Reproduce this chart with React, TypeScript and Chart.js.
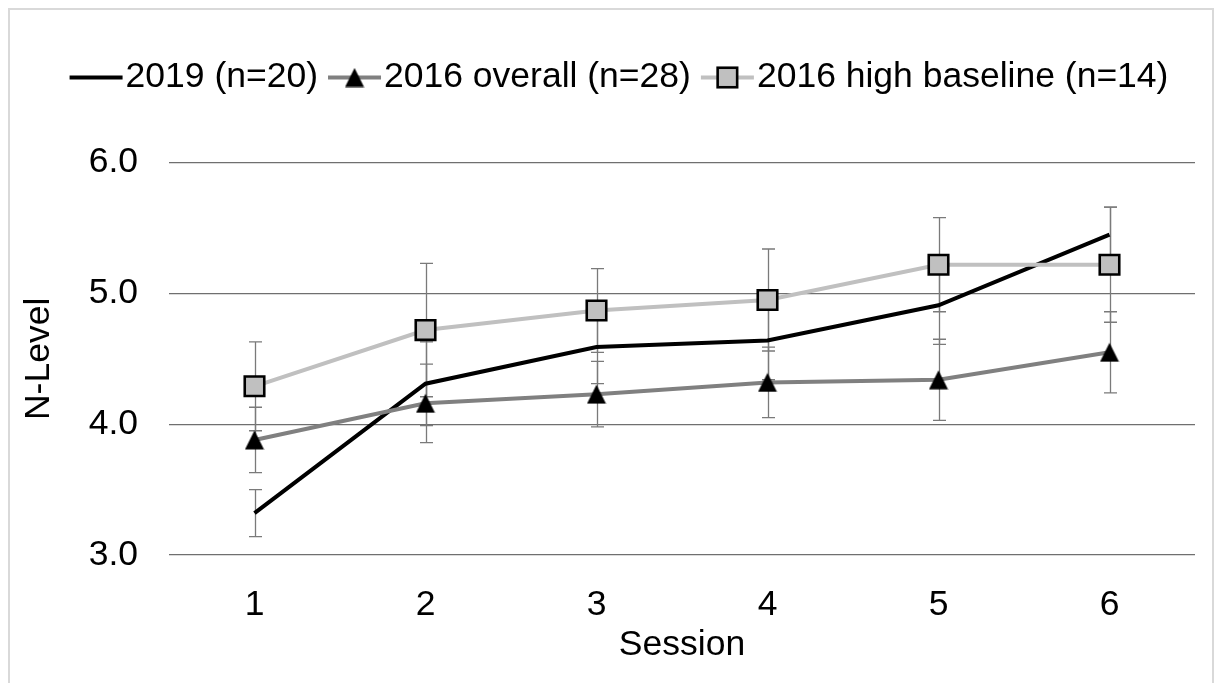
import React, { useEffect, useRef } from 'react';
import { Chart, registerables } from 'chart.js';

Chart.register(...registerables);

// Session means (N-level) and their error margins, per group
const sessions = ['1', '2', '3', '4', '5', '6'];
const level2019 = [3.32, 4.31, 4.59, 4.64, 4.91, 5.45];
const err2019 = [0.18, 0.32, 0.28, 0.3, 0.3, 0.21];
const level2016All = [3.88, 4.16, 4.23, 4.32, 4.34, 4.55];
const err2016All = [0.25, 0.3, 0.25, 0.27, 0.31, 0.31];
const level2016High = [4.29, 4.72, 4.87, 4.95, 5.22, 5.22];
const err2016High = [0.34, 0.51, 0.32, 0.39, 0.36, 0.44];
const seriesNames = ['2019 (n=20)', '2016 overall (n=28)', '2016 high baseline (n=14)'];
const yMin = 3;
const yMax = 6;
const yStep = 1;
const yTitle = 'N-Level';
const xTitle = 'Session';

const FONT = '"Liberation Sans", Arial, Helvetica, sans-serif';
const TEXT_SIZE = 35.5;

function makeTriangle(): HTMLCanvasElement {
  const c = document.createElement('canvas');
  c.width = 20;
  c.height = 20;
  const g = c.getContext('2d')!;
  g.fillStyle = '#000';
  g.beginPath();
  g.moveTo(10, 0.5);
  g.lineTo(19.5, 19.5);
  g.lineTo(0.5, 19.5);
  g.closePath();
  g.fill();
  return c;
}

// Vertical error bars with caps, drawn beneath the series
const errorBars = {
  id: 'errorBars',
  beforeDatasetsDraw(chart: any) {
    const { ctx } = chart;
    const y = chart.scales.y;
    ctx.save();
    ctx.strokeStyle = '#7a7a7a';
    ctx.lineWidth = 1.3;
    chart.data.datasets.forEach((ds: any, i: number) => {
      const meta = chart.getDatasetMeta(i);
      meta.data.forEach((pt: any, j: number) => {
        const v = ds.data[j];
        const e = ds.errors[j];
        const x = Math.round(pt.x) + 0.5;
        const top = y.getPixelForValue(v + e);
        const bot = y.getPixelForValue(v - e);
        ctx.beginPath();
        ctx.moveTo(x, top);
        ctx.lineTo(x, bot);
        ctx.moveTo(x - 6.5, top);
        ctx.lineTo(x + 6.5, top);
        ctx.moveTo(x - 6.5, bot);
        ctx.lineTo(x + 6.5, bot);
        ctx.stroke();
      });
    });
    ctx.restore();
  },
};

// Legend with a line sample and the series marker in its middle
const seriesLegend = {
  id: 'seriesLegend',
  afterDraw(chart: any) {
    const { ctx } = chart;
    ctx.save();
    ctx.font = `${TEXT_SIZE}px ${FONT}`;
    const sample = 53;
    const gapText = 3;
    const gapItem = 10;
    const items = chart.data.datasets.map((ds: any) => ({ ds, w: ctx.measureText(ds.label).width }));
    const total =
      items.reduce((s: number, it: any) => s + sample + gapText + it.w, 0) + gapItem * (items.length - 1);
    let x = chart.width / 2 + 8 - total / 2;
    const y = 67.5;
    items.forEach(({ ds, w }: any) => {
      ctx.strokeStyle = ds.borderColor;
      ctx.lineWidth = ds.borderWidth;
      ctx.lineCap = 'butt';
      ctx.beginPath();
      ctx.moveTo(x, y);
      ctx.lineTo(x + sample, y);
      ctx.stroke();
      const cx = x + sample / 2;
      const ps = ds.pointStyle;
      if (ps && typeof ps === 'object') {
        ctx.drawImage(ps, cx - ps.width / 2, y - ps.height / 2);
      } else if (ps === 'rect' && ds.pointRadius > 0) {
        const half = ds.pointRadius * Math.SQRT1_2;
        ctx.fillStyle = ds.pointBackgroundColor;
        ctx.fillRect(cx - half, y - half, half * 2, half * 2);
        ctx.strokeStyle = ds.pointBorderColor;
        ctx.lineWidth = ds.pointBorderWidth;
        ctx.strokeRect(cx - half, y - half, half * 2, half * 2);
      }
      ctx.fillStyle = '#000';
      ctx.textBaseline = 'middle';
      ctx.textAlign = 'left';
      ctx.fillText(ds.label, x + sample + gapText, y);
      x += sample + gapText + w + gapItem;
    });
    ctx.restore();
  },
};

export default function App() {
  const ref = useRef<HTMLCanvasElement>(null);

  useEffect(() => {
    const triangle = makeTriangle();
    const chart = new Chart(ref.current!, {
      type: 'line',
      data: {
        labels: sessions,
        datasets: [
          {
            label: seriesNames[0],
            data: level2019,
            errors: err2019,
            borderColor: '#000000',
            borderWidth: 4,
            pointRadius: 0,
            tension: 0,
            order: 3,
          } as any,
          {
            label: seriesNames[1],
            data: level2016All,
            errors: err2016All,
            borderColor: '#808080',
            borderWidth: 4,
            pointStyle: triangle,
            pointRadius: 9,
            pointBackgroundColor: '#000',
            pointBorderColor: '#000',
            tension: 0,
            order: 2,
          } as any,
          {
            label: seriesNames[2],
            data: level2016High,
            errors: err2016High,
            borderColor: '#c0c0c0',
            borderWidth: 4,
            pointStyle: 'rect',
            pointRadius: 13.8,
            pointBackgroundColor: '#c0c0c0',
            pointBorderColor: '#000000',
            pointBorderWidth: 2.6,
            tension: 0,
            order: 1,
          } as any,
        ],
      },
      options: {
        animation: false,
        responsive: true,
        maintainAspectRatio: false,
        layout: { padding: { top: 152.7, right: 17, left: 0, bottom: 0 } },
        plugins: {
          legend: { display: false },
          tooltip: { enabled: false },
        },
        scales: {
          x: {
            type: 'category',
            offset: true,
            grid: { display: false },
            border: { display: false },
            ticks: { color: '#000', padding: 21, font: { family: FONT, size: TEXT_SIZE } },
            title: {
              display: true,
              text: xTitle,
              color: '#000',
              font: { family: FONT, size: TEXT_SIZE },
              padding: { top: 0, bottom: 16 },
            },
            afterFit(scale: any) {
              scale.height = 128;
            },
          },
          y: {
            min: yMin,
            max: yMax,
            ticks: {
              stepSize: yStep,
              color: '#000',
              padding: 31,
              font: { family: FONT, size: TEXT_SIZE },
              callback: (v: any) => Number(v).toFixed(1),
            },
            grid: { color: '#6f6f6f', lineWidth: 1.3, drawTicks: false },
            border: { display: false },
            title: {
              display: true,
              text: yTitle,
              color: '#000',
              font: { family: FONT, size: TEXT_SIZE },
              padding: { top: 8, bottom: 0 },
            },
            afterFit(scale: any) {
              scale.width = 159;
            },
          },
        },
      } as any,
      plugins: [errorBars, seriesLegend],
    });
    return () => chart.destroy();
  }, []);

  return (
    <div
      style={{
        width: 1206,
        height: 675,
        boxSizing: 'border-box',
        borderTop: '2px solid #d9d9d9',
        borderLeft: '2px solid #d9d9d9',
        borderRight: '2px solid #d9d9d9',
        background: '#fff',
      }}
    >
      <div style={{ position: 'relative', width: 1202, height: 673 }}>
        <canvas ref={ref} />
      </div>
    </div>
  );
}
